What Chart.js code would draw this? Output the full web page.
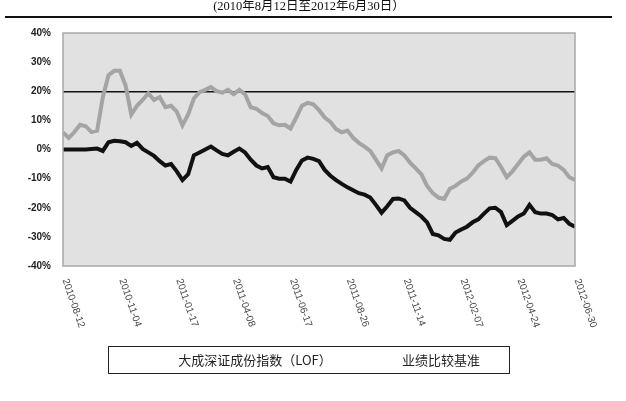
<!DOCTYPE html>
<html>
<head>
<meta charset="utf-8">
<script src="https://cdn.jsdelivr.net/npm/chart.js@4.4.0/dist/chart.umd.min.js"></script>
<style>
html,body{margin:0;padding:0;background:#fff;}
#wrap{width:626px;height:401px;position:relative;}
</style>
</head>
<body>
<div id="wrap"><canvas id="c" width="626" height="401"></canvas></div>
<script>
const titleText = "(2010年8月12日至2012年6月30日）";
const seriesNames = ["大成深证成份指数（LOF）", "业绩比较基准"];
const dateLabels = ["2010-08-12","2010-11-04","2011-01-17","2011-04-08","2011-06-17","2011-08-26","2011-11-14","2012-02-07","2012-04-24","2012-06-30"];
const yTicks = [40,30,20,10,0,-10,-20,-30,-40];
const yTickLabels = ["40%","30%","20%","10%","0%","-10%","-20%","-30%","-40%"];
const referenceLine = 20;

const fundValues = [0,0,0,0,0,0.2,0.3,-0.5,2.5,3.0,
  2.8,2.5,1.2,2.3,0.2,-1.0,-2.2,-4.0,-5.5,-5.0,
  -7.5,-10.5,-8.5,-2.0,-1.0,0,1.0,-0.3,-1.5,-2.0,
  -0.8,0.3,-1.0,-3.5,-5.5,-6.5,-6.0,-9.5,-10.0,-10.0,
  -11.0,-7.0,-3.8,-2.8,-3.2,-4.0,-7.0,-9.0,-10.5,-11.8,
  -13.0,-14.0,-15.0,-15.5,-16.5,-19.0,-21.7,-19.5,-17.0,-16.8,
  -17.5,-20.0,-21.5,-23.0,-25.0,-29.0,-29.5,-30.7,-31.0,-28.5,
  -27.5,-26.5,-25.0,-24.0,-22.0,-20.2,-20.0,-21.5,-26.0,-24.5,
  -23.0,-22.0,-19.0,-21.5,-22.0,-22.0,-22.5,-24.0,-23.5,-25.5,-26.5];
const benchValues = [5.9,4.0,6.0,8.5,8.0,6.0,6.5,18.0,25.5,27.0,
  27.0,22.0,12.0,15.0,17.0,19.3,17.0,18.0,14.5,15.0,
  13.0,8.3,12.0,17.5,19.7,20.5,21.4,20.0,19.5,20.5,
  19.0,20.5,19.0,14.5,14.0,12.5,11.5,9.0,8.3,8.5,
  7.2,11.0,15.0,16.0,15.5,13.5,11.0,9.5,7.0,5.9,
  6.5,4.0,2.3,1.0,-0.5,-3.5,-6.5,-2.0,-1.0,-0.5,
  -2.0,-4.5,-6.5,-8.5,-12.5,-15.0,-16.5,-17.0,-13.5,-12.5,
  -11.0,-10.0,-8.0,-5.5,-4.0,-2.8,-3.0,-6.0,-9.5,-7.5,
  -5.0,-2.5,-1.0,-3.5,-3.5,-3.0,-5.0,-5.5,-7.0,-9.5,-10.5];

const xIdx = fundValues.map((_, i) => i);
const labelStep = (fundValues.length - 1) / (dateLabels.length - 1);

const decor = {
  id: 'decor',
  beforeDraw(chart) {
    const {ctx, chartArea: a} = chart;
    ctx.save();
    ctx.fillStyle = '#e1e1e1';
    ctx.fillRect(a.left, a.top, a.right - a.left, a.bottom - a.top);
    ctx.restore();
  },
  afterDraw(chart) {
    const {ctx, chartArea: a} = chart;
    const xs = chart.scales.x;
    ctx.save();
    ctx.strokeStyle = '#a8a8a8';
    ctx.lineWidth = 1.5;
    ctx.strokeRect(a.left, a.top, a.right - a.left, a.bottom - a.top);
    // title
    ctx.fillStyle = '#111';
    ctx.font = '12.5px "Liberation Serif", "Noto Sans CJK SC", serif';
    ctx.textAlign = 'center';
    ctx.textBaseline = 'middle';
    ctx.fillText(titleText, 309, 7);
    ctx.strokeStyle = '#111';
    ctx.lineWidth = 2;
    ctx.beginPath();
    ctx.moveTo(5, 17); ctx.lineTo(612, 17);
    ctx.stroke();
    // x labels (rotated clockwise)
    ctx.fillStyle = '#444';
    ctx.font = '10px "Liberation Sans", sans-serif';
    ctx.textAlign = 'left';
    ctx.textBaseline = 'middle';
    dateLabels.forEach((lab, k) => {
      const px = xs.getPixelForValue(k * labelStep);
      ctx.save();
      ctx.translate(px + 2, 279);
      ctx.rotate(71 * Math.PI / 180);
      ctx.fillText(lab, 0, 0);
      ctx.restore();
    });
    // legend
    ctx.strokeStyle = '#222';
    ctx.lineWidth = 1;
    ctx.strokeRect(108.5, 346.5, 401, 27);
    ctx.fillStyle = '#222';
    ctx.font = '13px "Noto Sans CJK SC", sans-serif';
    ctx.textAlign = 'center';
    ctx.fillText(seriesNames[0], 255, 360);
    ctx.fillText(seriesNames[1], 441, 360);
    ctx.restore();
  }
};

new Chart(document.getElementById('c'), {
  type: 'line',
  data: {
    labels: xIdx,
    datasets: [
      {label: seriesNames[1], data: benchValues.map((v,i)=>({x:i,y:v})), borderColor: '#a4a4a4', borderWidth: 4, pointRadius: 0, tension: 0, fill: false},
      {label: seriesNames[0], data: fundValues.map((v,i)=>({x:i,y:v})), borderColor: '#111111', borderWidth: 4, pointRadius: 0, tension: 0, fill: false}
    ]
  },
  options: {
    responsive: false,
    devicePixelRatio: 1,
    animation: false,
    layout: {padding: {left: 0, right: 51, top: 33, bottom: 135}},
    plugins: {legend: {display: false}, tooltip: {enabled: false}, title: {display: false}},
    scales: {
      x: {
        type: 'linear', min: 0, max: fundValues.length - 1,
        grid: {display: false},
        border: {display: false},
        ticks: {display: false},
        afterFit(s) { s.height = 0; }
      },
      y: {
        min: -40, max: 40,
        afterBuildTicks(s) { s.ticks = yTicks.map(v => ({value: v})); },
        afterFit(s) { s.width = 63; },
        border: {display: false},
        grid: {
          drawTicks: false,
          color: c => (c.tick && c.tick.value === referenceLine) ? '#111' : 'rgba(0,0,0,0)',
          lineWidth: c => (c.tick && c.tick.value === referenceLine) ? 1.5 : 0
        },
        ticks: {
          padding: 12,
          color: '#222',
          font: {size: 10, weight: 'bold', family: '"Liberation Sans", sans-serif'},
          callback: v => yTickLabels[yTicks.indexOf(v)]
        }
      }
    }
  },
  plugins: [decor]
});
</script>
</body>
</html>
